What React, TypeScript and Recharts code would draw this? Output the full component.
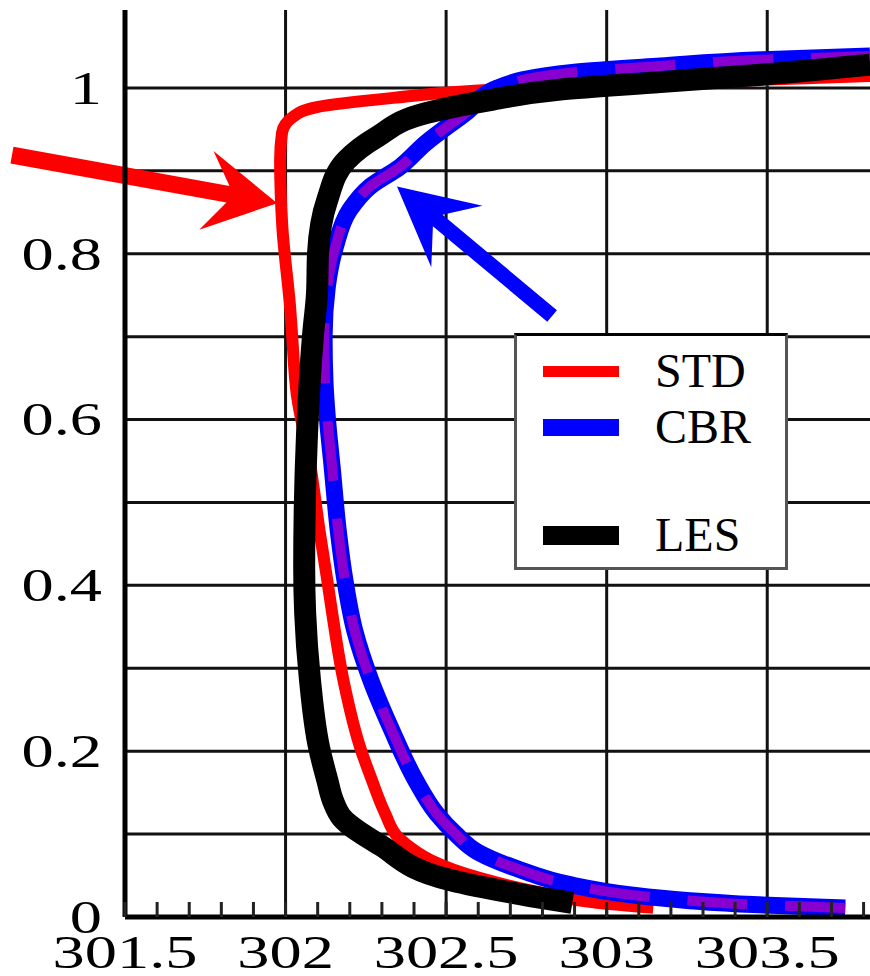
import React from 'react';
import { LineChart, Line, XAxis, YAxis, CartesianGrid, Legend, ReferenceLine } from 'recharts';

// height (normalised) and temperature for each profile
const STD_H = [0.011, 0.017, 0.029, 0.047, 0.069, 0.078, 0.0965, 0.125, 0.165, 0.205, 0.286, 0.367, 0.406, 0.463, 0.55, 0.63, 0.704, 0.736, 0.832, 0.913, 0.946, 0.965, 0.977, 0.988, 0.997, 1.001, 1.007, 1.0145];
const STD_T = [303.145, 302.97, 302.8, 302.606, 302.45, 302.41, 302.35, 302.31, 302.269, 302.232, 302.18, 302.145, 302.13, 302.107, 302.075, 302.035, 302.02, 302.014, 301.99, 301.983, 301.989, 302.023, 302.098, 302.335, 302.6, 302.83, 303.29, 303.82];

const CBR_H = [0.011, 0.015, 0.02, 0.027, 0.039, 0.057, 0.078, 0.1, 0.125, 0.165, 0.226, 0.286, 0.346, 0.406, 0.463, 0.543, 0.603, 0.644, 0.7, 0.76, 0.808, 0.853, 0.881, 0.905, 0.933, 0.971, 1.0, 1.019, 1.0265, 1.034, 1.0385];
const CBR_T = [303.743, 303.456, 303.25, 303.07, 302.886, 302.73, 302.6, 302.53, 302.47, 302.405, 302.33, 302.265, 302.215, 302.185, 302.165, 302.145, 302.13, 302.123, 302.12, 302.13, 302.155, 302.2, 302.263, 302.357, 302.435, 302.565, 302.66, 302.9, 303.167, 303.48, 303.82];

const LES_H = [0.0169, 0.0253, 0.0446, 0.0869, 0.12, 0.14, 0.165, 0.205, 0.286, 0.367, 0.422, 0.584, 0.704, 0.753, 0.8, 0.865, 0.913, 0.941, 0.97, 0.986, 0.998, 1.007, 1.016, 1.028];
const LES_T = [302.893, 302.762, 302.512, 302.294, 302.175, 302.148, 302.13, 302.104, 302.076, 302.061, 302.058, 302.067, 302.086, 302.098, 302.101, 302.13, 302.19, 302.285, 302.44, 302.646, 302.855, 303.167, 303.48, 303.82];

const X_TICKS = [301.5, 301.6, 301.7, 301.8, 301.9, 302, 302.1, 302.2, 302.3, 302.4, 302.5, 302.6, 302.7, 302.8, 302.9, 303, 303.1, 303.2, 303.3, 303.4, 303.5, 303.6, 303.7, 303.8];
const X_LABELS = [301.5, 302, 302.5, 303, 303.5];
const Y_TICKS = [0, 0.2, 0.4, 0.6, 0.8, 1];
const H_GRID = [0.1, 0.2, 0.3, 0.4, 0.5, 0.6, 0.7, 0.8, 0.9, 1.0];
const V_GRID = [302, 302.5, 303, 303.5];

// arrows: tail -> tip in data coordinates
const RED_ARROW = [{ x: 301.148, y: 0.919 }, { x: 301.974, y: 0.861 }];
const BLUE_ARROW = [{ x: 302.83, y: 0.725 }, { x: 302.347, y: 0.881 }];

const toPoints = (h: number[], t: number[]) => h.map((v, i) => ({ h: v, t: t[i] }));
const stdData = toPoints(STD_H, STD_T);
const cbrData = toPoints(CBR_H, CBR_T);
const lesData = toPoints(LES_H, LES_T);

const LEGEND_ITEMS = [
  { name: 'STD', color: '#ff0000', size: 11 },
  { name: 'CBR', color: '#0000ff', size: 17 },
  { name: '', color: 'transparent', size: 0 },
  { name: 'LES', color: '#000000', size: 19 },
];

const FONT = '"Liberation Serif", "Times New Roman", serif';

const XTick = (props: any) => {
  const { x, y, payload } = props;
  const axisY = y - 35;
  const showLabel = X_LABELS.includes(payload.value);
  return (
    <g>
      <line x1={x} x2={x} y1={axisY} y2={axisY - 15} stroke="#222" strokeWidth={3} />
      {showLabel && (
        <g transform={`translate(${x},${y})`}>
          <text transform="scale(1.37,1)" textAnchor="middle" dominantBaseline="central" fontFamily={FONT} fontSize={47} fill="#000">
            {payload.value}
          </text>
        </g>
      )}
    </g>
  );
};

const YTick = (props: any) => {
  const { x, y, payload } = props;
  return (
    <g transform={`translate(${x},${y})`}>
      <text transform="scale(1.37,1)" textAnchor="end" dominantBaseline="central" fontFamily={FONT} fontSize={47} fill="#000">
        {payload.value}
      </text>
    </g>
  );
};

const makeArrow = (color: string, shaft: number, headLen: number, headHalf: number, notch: number) => (props: any) => {
  const { x1, y1, x2, y2 } = props;
  const dx = x2 - x1;
  const dy = y2 - y1;
  const len = Math.sqrt(dx * dx + dy * dy);
  const ux = dx / len;
  const uy = dy / len;
  const nx = -uy;
  const ny = ux;
  const p = (u: number, v: number) => `${x2 + ux * u + nx * v},${y2 + uy * u + ny * v}`;
  const pts = [
    p(-len, shaft / 2),
    p(-notch, shaft / 2),
    p(-headLen, headHalf),
    p(0, 0),
    p(-headLen, -headHalf),
    p(-notch, -shaft / 2),
    p(-len, -shaft / 2),
  ].join(' ');
  return <polygon points={pts} fill={color} />;
};

const LegendBox = () => (
  <div
    style={{
      position: 'relative',
      width: 274,
      height: 237,
      boxSizing: 'border-box',
      background: '#fff',
      border: '3px solid #555',
      borderTop: '3px solid #000',
    }}
  >
    {LEGEND_ITEMS.map((item, i) => {
      const cy = [35, 91, 145, 199][i];
      if (!item.name) return null;
      return (
        <React.Fragment key={item.name}>
          <div
            style={{
              position: 'absolute',
              left: 26,
              top: cy - item.size / 2,
              width: 76,
              height: item.size,
              background: item.color,
            }}
          />
          <div
            style={{
              position: 'absolute',
              left: 138,
              top: cy - 30,
              height: 60,
              lineHeight: '60px',
              fontFamily: FONT,
              fontSize: 48,
              color: '#000',
            }}
          >
            {item.name}
          </div>
        </React.Fragment>
      );
    })}
  </div>
);

export default function App() {
  return (
    <div style={{ position: 'absolute', left: 0, top: 0, background: '#fff' }}>
      <LineChart width={870} height={976} layout="vertical" margin={{ top: 10, right: 0, bottom: 0, left: 0 }}>
        <CartesianGrid
          horizontalValues={H_GRID}
          verticalValues={V_GRID}
          stroke="#111"
          strokeWidth={3}
        />
        <XAxis
          type="number"
          domain={[301.5, 303.82]}
          allowDataOverflow
          ticks={X_TICKS}
          interval={0}
          tickSize={0}
          tickMargin={35}
          tickLine={false}
          tick={<XTick />}
          height={59}
          axisLine={{ stroke: '#000', strokeWidth: 5 }}
        />
        <YAxis
          type="number"
          dataKey="h"
          domain={[0, 1.094]}
          reversed
          allowDataOverflow
          ticks={Y_TICKS}
          interval={0}
          tickSize={0}
          tickMargin={23}
          tickLine={false}
          tick={<YTick />}
          width={125}
          axisLine={{ stroke: '#000', strokeWidth: 5 }}
        />
        <Line data={stdData} dataKey="t" type="monotoneY" stroke="#ff0000" strokeWidth={12} dot={false} activeDot={false} isAnimationActive={false} />
        <Line data={cbrData} dataKey="t" type="monotoneY" stroke="#0000ff" strokeWidth={17} dot={false} activeDot={false} isAnimationActive={false} />
        <Line data={cbrData} dataKey="t" type="monotoneY" stroke="#8800d0" strokeWidth={10} strokeDasharray="60 38" dot={false} activeDot={false} isAnimationActive={false} legendType="none" />
        <Line data={lesData} dataKey="t" type="monotoneY" stroke="#000000" strokeWidth={22} dot={false} activeDot={false} isAnimationActive={false} />
        <ReferenceLine segment={RED_ARROW} ifOverflow="visible" shape={makeArrow('#ff0000', 17, 72, 40, 50)} />
        <ReferenceLine segment={BLUE_ARROW} ifOverflow="visible" shape={makeArrow('#0000ff', 15, 78, 40, 53)} />
        <Legend
          layout="vertical"
          align="center"
          verticalAlign="middle"
          wrapperStyle={{ left: 514, top: 333, width: 274, height: 237 }}
          content={() => <LegendBox />}
        />
      </LineChart>
    </div>
  );
}
